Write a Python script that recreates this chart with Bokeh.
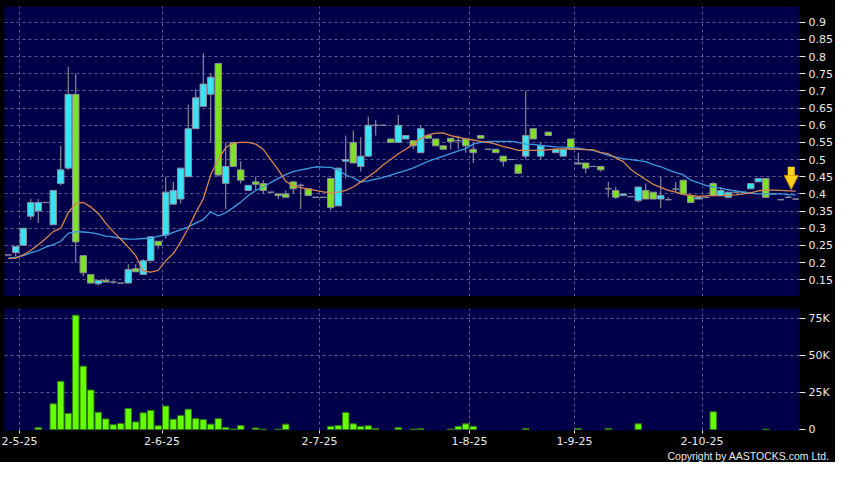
import numpy as np
from bokeh.plotting import figure
from bokeh.models import (ColumnDataSource, FixedTicker, Range1d, Arrow,
                          NormalHead, Title)
from bokeh.layouts import column
from bokeh.embed import file_html
from bokeh.resources import INLINE

# ---------------- data ----------------
opens = [0.222, 0.229, 0.25, 0.335, 0.35, 0.375, 0.31, 0.43, 0.475, 0.69,
         0.22, 0.165, 0.138, 0.148, 0.143, 0.14, 0.14, 0.182, 0.165, 0.205,
         0.262, 0.28, 0.37, 0.385, 0.45, 0.59, 0.655, 0.69, 0.78, 0.43,
         0.55, 0.47, 0.41, 0.435, 0.43, 0.405, 0.40, 0.40, 0.435, 0.425,
         0.415, 0.39, 0.39, 0.445, 0.365, 0.495, 0.55, 0.48, 0.51, 0.60,
         0.60, 0.56, 0.55, 0.56, 0.555, 0.52, 0.57, 0.56, 0.54, 0.562,
         0.555, 0.56, 0.53, 0.57, 0.53, 0.53, 0.51, 0.50, 0.485, 0.51,
         0.59, 0.51, 0.58, 0.52, 0.51, 0.56, 0.49, 0.49, 0.48, 0.48,
         0.415, 0.41, 0.395, 0.392, 0.38, 0.41, 0.405, 0.385, 0.383, 0.414,
         0.44, 0.395, 0.385, 0.39, 0.43, 0.395, 0.39, 0.405, 0.405, 0.415,
         0.435, 0.445, 0.40, 0.383, 0.39, 0.385]
highs = [0.222, 0.247, 0.30, 0.385, 0.385, 0.375, 0.41, 0.54, 0.77, 0.75,
         0.22, 0.165, 0.148, 0.154, 0.148, 0.14, 0.195, 0.195, 0.21, 0.275,
         0.262, 0.45, 0.435, 0.475, 0.66, 0.705, 0.81, 0.75, 0.78, 0.55,
         0.55, 0.495, 0.425, 0.45, 0.44, 0.405, 0.40, 0.41, 0.435, 0.43,
         0.415, 0.39, 0.39, 0.445, 0.475, 0.57, 0.585, 0.565, 0.625, 0.615,
         0.60, 0.56, 0.63, 0.57, 0.555, 0.60, 0.57, 0.56, 0.54, 0.562,
         0.57, 0.56, 0.55, 0.57, 0.53, 0.53, 0.51, 0.50, 0.485, 0.70,
         0.59, 0.55, 0.58, 0.53, 0.53, 0.56, 0.52, 0.49, 0.48, 0.48,
         0.435, 0.42, 0.40, 0.392, 0.42, 0.43, 0.405, 0.45, 0.39, 0.435,
         0.44, 0.395, 0.39, 0.39, 0.435, 0.42, 0.405, 0.405, 0.405, 0.43,
         0.445, 0.445, 0.40, 0.383, 0.395, 0.385]
lows = [0.222, 0.217, 0.25, 0.325, 0.315, 0.375, 0.31, 0.425, 0.47, 0.20,
        0.16, 0.14, 0.133, 0.143, 0.138, 0.14, 0.14, 0.173, 0.165, 0.205,
        0.24, 0.27, 0.37, 0.372, 0.45, 0.59, 0.655, 0.55, 0.45, 0.355,
        0.48, 0.43, 0.41, 0.41, 0.40, 0.405, 0.385, 0.39, 0.40, 0.355,
        0.395, 0.39, 0.39, 0.353, 0.365, 0.445, 0.49, 0.465, 0.51, 0.57,
        0.60, 0.55, 0.55, 0.56, 0.53, 0.52, 0.562, 0.54, 0.53, 0.53,
        0.53, 0.52, 0.49, 0.562, 0.53, 0.52, 0.48, 0.50, 0.46, 0.50,
        0.56, 0.50, 0.57, 0.52, 0.51, 0.53, 0.487, 0.46, 0.48, 0.465,
        0.39, 0.385, 0.395, 0.392, 0.375, 0.385, 0.385, 0.36, 0.383, 0.405,
        0.40, 0.375, 0.385, 0.39, 0.395, 0.395, 0.39, 0.405, 0.405, 0.415,
        0.435, 0.39, 0.40, 0.383, 0.39, 0.385]
closes = [0.222, 0.247, 0.30, 0.375, 0.375, 0.375, 0.41, 0.47, 0.69, 0.26,
          0.17, 0.14, 0.148, 0.143, 0.143, 0.14, 0.18, 0.173, 0.205, 0.275,
          0.25, 0.405, 0.41, 0.475, 0.59, 0.68, 0.72, 0.74, 0.455, 0.48,
          0.48, 0.44, 0.425, 0.428, 0.41, 0.405, 0.395, 0.39, 0.415, 0.425,
          0.395, 0.39, 0.39, 0.36, 0.475, 0.50, 0.49, 0.51, 0.60, 0.60,
          0.60, 0.55, 0.60, 0.57, 0.54, 0.59, 0.562, 0.54, 0.53, 0.552,
          0.555, 0.54, 0.52, 0.562, 0.53, 0.52, 0.495, 0.50, 0.46, 0.57,
          0.56, 0.54, 0.57, 0.53, 0.53, 0.53, 0.487, 0.475, 0.48, 0.47,
          0.415, 0.39, 0.40, 0.392, 0.42, 0.385, 0.385, 0.395, 0.383, 0.414,
          0.40, 0.375, 0.39, 0.39, 0.395, 0.41, 0.405, 0.405, 0.405, 0.43,
          0.445, 0.39, 0.40, 0.383, 0.39, 0.385]
volumes = [0, 0, 0, 0, 1300, 0, 17400, 32600, 10900, 77200,
           42800, 26700, 11700, 7200, 3300, 4100, 14300, 5200, 11300, 13000,
           2600, 15900, 7000, 9600, 13700, 7400, 6700, 3700, 7400, 1500,
           400, 2800, 0, 1100, 300, 0, 300, 3700, 0, 0,
           0, 0, 0, 2200, 2800, 11500, 3900, 2200, 2600, 700,
           0, 0, 1300, 0, 300, 700, 0, 0, 0, 400,
           2200, 3900, 2200, 0, 0, 0, 0, 0, 0, 700,
           0, 0, 0, 0, 0, 0, 700, 0, 0, 0,
           700, 0, 0, 0, 3900, 0, 0, 0, 0, 0,
           0, 0, 0, 0, 12000, 0, 0, 0, 0, 0,
           0, 300, 0, 0, 0, 0]
ma10 = [0.212, 0.213, 0.222, 0.235, 0.252, 0.27, 0.29, 0.30, 0.345, 0.372,
        0.375, 0.362, 0.343, 0.315, 0.29, 0.268, 0.245, 0.22, 0.175, 0.172,
        0.177, 0.205, 0.226, 0.26, 0.30, 0.345, 0.385, 0.456, 0.50, 0.535,
        0.548, 0.55, 0.55, 0.545, 0.53, 0.50, 0.47, 0.437, 0.423, 0.418,
        0.414, 0.41, 0.406, 0.403, 0.405, 0.41, 0.42, 0.435, 0.45, 0.465,
        0.485, 0.50, 0.517, 0.53, 0.545, 0.562, 0.572, 0.577, 0.578, 0.57,
        0.565, 0.56, 0.557, 0.553, 0.55, 0.545, 0.538, 0.533, 0.527, 0.527,
        0.527, 0.527, 0.529, 0.53, 0.531, 0.531, 0.53, 0.529, 0.528, 0.52,
        0.517, 0.505, 0.494, 0.472, 0.456, 0.442, 0.428, 0.419, 0.41, 0.405,
        0.398, 0.396, 0.393, 0.394, 0.395, 0.395, 0.396, 0.397, 0.40, 0.403,
        0.409, 0.411, 0.411, 0.41, 0.409, 0.408]
ma20 = [0.212, 0.215, 0.22, 0.228, 0.235, 0.245, 0.252, 0.262, 0.285, 0.29,
        0.289, 0.287, 0.283, 0.277, 0.275, 0.27, 0.268, 0.268, 0.27, 0.27,
        0.277, 0.28, 0.288, 0.295, 0.304, 0.315, 0.325, 0.348, 0.336, 0.345,
        0.36, 0.376, 0.395, 0.41, 0.42, 0.433, 0.445, 0.456, 0.465, 0.47,
        0.474, 0.479, 0.478, 0.477, 0.47, 0.455, 0.447, 0.435, 0.438, 0.443,
        0.448, 0.455, 0.462, 0.468, 0.476, 0.485, 0.495, 0.503, 0.51, 0.517,
        0.525, 0.532, 0.545, 0.55, 0.553, 0.553, 0.553, 0.553, 0.55, 0.545,
        0.544, 0.541, 0.539, 0.537, 0.536, 0.535, 0.533, 0.53, 0.527, 0.52,
        0.512, 0.507, 0.503, 0.5, 0.497, 0.494, 0.485, 0.479, 0.47, 0.462,
        0.456, 0.44, 0.433, 0.425, 0.42, 0.417, 0.412, 0.409, 0.405, 0.402,
        0.40, 0.40, 0.40, 0.40, 0.398, 0.397]

month_start_idx = [2, 21, 42, 62, 76, 93]
month_labels = ["2-5-25", "2-6-25", "2-7-25", "1-8-25", "1-9-25", "2-10-25"]
price_ticks = [0.15, 0.2, 0.25, 0.3, 0.35, 0.4, 0.45, 0.5, 0.55, 0.6,
               0.65, 0.7, 0.75, 0.8, 0.85, 0.9]
price_tick_labels = ["0.15", "0.2", "0.25", "0.3", "0.35", "0.4", "0.45",
                     "0.5", "0.55", "0.6", "0.65", "0.7", "0.75", "0.8",
                     "0.85", "0.9"]
vol_ticks = [0, 25000, 50000, 75000]
vol_tick_labels = ["0", "25K", "50K", "75K"]
copyright_text = "Copyright by AASTOCKS.com Ltd."

# ---------------- styling ----------------
BG = "#000000"
FRAME = "#00004a"
GRID = "#5c5c8c"
UP = "#38e4f4"
DOWN = "#80e024"
VOLC = "#66ff00"
EDGE = "#8c8c9c"
WICK = "#a0a0a8"
TXT = "#e8e8e8"
FONT = "DejaVu Sans"

n = len(closes)
idx = np.arange(n)
o = np.array(opens); c = np.array(closes)
h = np.array(highs); l = np.array(lows)
up = c > o
body_top = np.maximum(o, c)
body_bot = np.minimum(o, c)
colors = [UP if u else DOWN for u in up]

src = ColumnDataSource(dict(x=idx, top=body_top, bottom=body_bot,
                            high=h, low=l, color=colors))

x_range = Range1d(-0.5, n - 0.5)
grid_pos = [m - 0.5 for m in month_start_idx]


def style(fig):
    fig.background_fill_color = FRAME
    fig.border_fill_color = BG
    fig.outline_line_color = None
    fig.xgrid.ticker = FixedTicker(ticks=grid_pos)
    for g in (fig.xgrid, fig.ygrid):
        g.grid_line_color = GRID
        g.grid_line_dash = "3 3"
        g.grid_line_width = 1
    ax = fig.yaxis[0]
    ax.axis_line_color = None
    ax.major_tick_line_color = TXT
    ax.major_tick_in = 0
    ax.major_tick_out = 6
    ax.minor_tick_line_color = None
    ax.major_label_text_color = TXT
    ax.major_label_text_font = FONT
    ax.major_label_text_font_size = "11px"
    ax.major_label_standoff = 3


p = figure(frame_width=795, frame_height=290, x_range=x_range,
           y_range=Range1d(0.101, 0.946), output_backend="svg",
           toolbar_location=None, x_axis_location=None, y_axis_location="right",
           min_border_left=4, min_border_right=35, min_border_top=6,
           min_border_bottom=0)
style(p)
p.yaxis.ticker = FixedTicker(ticks=price_ticks)
p.yaxis.major_label_overrides = dict(zip(price_ticks, price_tick_labels))

p.segment(x0="x", y0="high", x1="x", y1="low", source=src,
          line_color=WICK, line_width=1)
p.vbar(x="x", width=0.86, top="top", bottom="bottom", source=src,
       fill_color="color", line_color=EDGE, line_width=1)
p.line(idx, ma20, line_color="#3d9be0", line_width=1.3)
p.line(idx, ma10, line_color="#d9864e", line_width=1.3)

# marker arrow above the latest quote
ax_x = n - 1.6
tip = closes[-1] + 0.028
p.add_layout(Arrow(end=NormalHead(size=14, fill_color="#ffd21a",
                                  line_color="#d88a00", line_width=1),
                   x_start=ax_x, y_start=tip + 0.066, x_end=ax_x, y_end=tip,
                   line_color="#ffd21a", line_width=7))

# ---------------- volume ----------------
vol_mask = [v > 0 for v in volumes]
vsrc = ColumnDataSource(dict(x=idx[vol_mask],
                             v=np.array(volumes)[vol_mask]))
q = figure(frame_width=795, frame_height=122, x_range=x_range,
           y_range=Range1d(-600, 81700), output_backend="svg",
           toolbar_location=None, y_axis_location="right",
           min_border_left=4, min_border_right=35, min_border_top=12,
           min_border_bottom=32)
style(q)
q.yaxis.ticker = FixedTicker(ticks=vol_ticks)
q.yaxis.major_label_overrides = dict(zip(vol_ticks, vol_tick_labels))
q.ygrid.ticker = FixedTicker(ticks=vol_ticks[1:])
xa = q.xaxis[0]
xa.ticker = FixedTicker(ticks=grid_pos)
xa.major_label_overrides = dict(zip(grid_pos, month_labels))
xa.axis_line_color = None
xa.major_tick_line_color = TXT
xa.major_tick_in = 0
xa.major_tick_out = 3
xa.minor_tick_line_color = None
xa.major_label_text_color = TXT
xa.major_label_text_font = FONT
xa.major_label_text_font_size = "11px"
xa.major_label_standoff = 3

q.vbar(x="x", width=0.86, top="v", bottom=0, source=vsrc,
       fill_color=VOLC, line_color="#2f7a10", line_width=1)

q.add_layout(Title(text=copyright_text, align="right", offset=-30, standoff=0,
                   text_color=TXT, text_font="Liberation Sans",
                   text_font_size="10.5px", text_font_style="normal"),
             "below")

layout = column(p, q, spacing=0, styles={"background-color": "black"})
open("out.html", "w").write(file_html(layout, INLINE))
